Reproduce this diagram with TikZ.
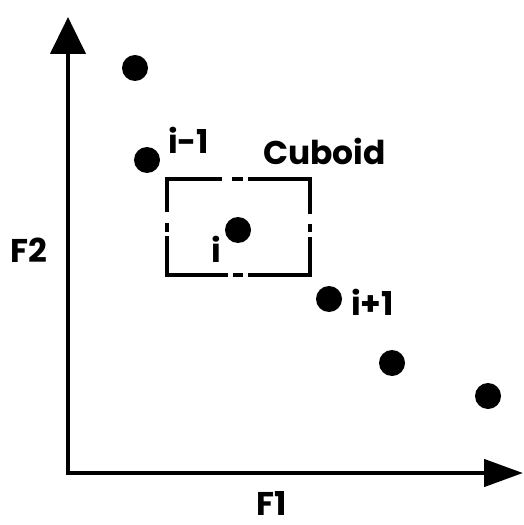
\documentclass[tikz,border=0pt]{standalone}
\usepackage{fontspec}
\setmainfont{Poppins}
\usetikzlibrary{arrows.meta}
\tikzset{
  dot/.style={circle,fill=black,inner sep=0pt,minimum size=26bp},
  lbl/.style={anchor=base west,inner sep=0pt,font=\fontsize{33}{33}\selectfont\bfseries},
  axis/.style={line width=4.5bp,line join=miter},
  boxline/.style={line width=4.5bp,line join=miter,line cap=butt}
}
\begin{document}
\begin{tikzpicture}[x=1bp,y=-1bp]
\useasboundingbox (0,0) rectangle (524,525);
% axes
\coordinate (ytip) at (68,17);
\coordinate (origin) at (68,473);
\coordinate (xtip) at (523,473);
\draw[axis,{Triangle[length=37bp,width=35bp]}-{Triangle[length=39bp,width=27bp]}] (ytip) |- (xtip);
% points
\node[dot] (p1) at (135,68) {};
\node[dot] (p2) at (147,160) {};
\node[dot] (p3) at (238,230) {};
\node[dot] (p4) at (329,299) {};
\node[dot] (p5) at (392,363) {};
\node[dot] (p6) at (488,396) {};
% cuboid (dash-dot rectangle)
\draw[boxline] (222,179) -- (167,179) -- (167,212);
\draw[boxline] (248,179) -- (310,179) -- (310,214);
\draw[boxline] (167,236) -- (167,275) -- (228,275);
\draw[boxline] (248,275) -- (310,275) -- (310,237);
\draw[boxline] (232,179) -- (243,179);
\draw[boxline] (233,275) -- (243,275);
\draw[boxline] (167,223) -- (167,232);
\draw[boxline] (310,224) -- (310,232);
% labels
\node[lbl] (lim1) at (168,154) {i-1};
\node[lbl] (lcub) at (263,165) {Cuboid};
\node[lbl] (li) at (211,262) {i};
\node[lbl] (lip1) at (351,315) {i+1};
\node[lbl] (lf2) at (10,262) {F2};
\node[lbl] (lf1) at (256,515) {F1};
\end{tikzpicture}
\end{document}
